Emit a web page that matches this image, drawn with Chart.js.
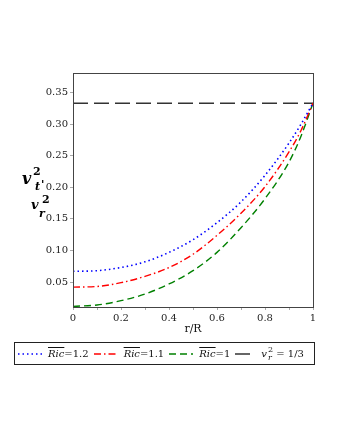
<!DOCTYPE html>
<html>
<head>
<meta charset="utf-8">
<script src="https://cdn.jsdelivr.net/npm/chart.js@4.4.1/dist/chart.umd.min.js"></script>
<style>
    body { margin: 0; background: #fff; width: 340px; height: 440px; overflow: hidden; }
    #wrap { position: absolute; left: 0; top: 0; width: 340px; height: 440px; }
    .ylab { position: absolute; font-family: "DejaVu Serif", serif; font-style: italic; color: #000; line-height: 1; }
    #legend {
        position: absolute; left: 14px; top: 342px; width: 299px; height: 21px;
        border: 1px solid #222; display: flex; align-items: center;
        font-family: "DejaVu Serif", serif; font-size: 10px; color: #111;
    }
    #legend .item { display: flex; align-items: center; margin-left: 3px; margin-right: 2px; }
    #legend svg { margin-right: 6px; }
    .ov { text-decoration: overline; font-style: italic; }
</style>
</head>
<body>
<div id="wrap"><canvas id="vChart"></canvas></div>

<!-- y axis label: v_t^2, v_r^2 -->
<span class="ylab" style="left:22px;top:171px;font-size:16px;font-weight:bold;">v</span>
<span class="ylab" style="left:33px;top:166px;font-size:11px;font-weight:bold;font-style:normal;">2</span>
<span class="ylab" style="left:35px;top:181px;font-size:11px;font-weight:bold;">t</span>
<span class="ylab" style="left:41px;top:179px;font-size:11px;font-weight:bold;">'</span>
<span class="ylab" style="left:31px;top:198px;font-size:13px;font-weight:bold;">v</span>
<span class="ylab" style="left:42px;top:194px;font-size:11px;font-weight:bold;font-style:normal;">2</span>
<span class="ylab" style="left:39px;top:208px;font-size:11px;font-weight:bold;">r</span>

<div id="legend"></div>

<script>
// r/R sample points
const rValues = [0, 0.1, 0.2, 0.3, 0.4, 0.5, 0.6, 0.7, 0.8, 0.9, 0.95, 1];

// squared velocities
const vRic12 = [0.067, 0.068, 0.073, 0.082, 0.097, 0.117, 0.144, 0.177, 0.219, 0.270, 0.300, 0.3333];
const vRic11 = [0.042, 0.043, 0.049, 0.059, 0.073, 0.094, 0.124, 0.159, 0.201, 0.256, 0.290, 0.3333];
const vRic1  = [0.0115, 0.0137, 0.0205, 0.031, 0.047, 0.068, 0.097, 0.136, 0.182, 0.240, 0.281, 0.3333];

// causality bound v_r^2 = 1/3
const boundR = [0, 1];
const boundV = [0.3333, 0.3333];

const yTicks = [0.05, 0.10, 0.15, 0.20, 0.25, 0.30, 0.35];
const xTicks = [0, 0.1, 0.2, 0.3, 0.4, 0.5, 0.6, 0.7, 0.8, 0.9, 1];
const xLabels = ['0', '', '0.2', '', '0.4', '', '0.6', '', '0.8', '', '1'];

const seriesLabels = ['1.2', '1.1', '1'];

function toPoints(xs, ys) {
    return xs.map((x, i) => ({ x: x, y: ys[i] }));
}

// frame around the plot area
const frame = {
    id: 'frame',
    afterDraw(chart) {
        const a = chart.chartArea;
        const ctx = chart.ctx;
        ctx.save();
        ctx.strokeStyle = '#444';
        ctx.lineWidth = 1;
        ctx.strokeRect(a.left + 0.5, a.top + 0.5, a.right - a.left, a.bottom - a.top);
        ctx.restore();
    }
};

const ctx = document.getElementById('vChart').getContext('2d');

const chart = new Chart(ctx, {
    type: 'line',
    data: {
        datasets: [
            {
                label: 'Ric=1.2',
                data: toPoints(rValues, vRic12),
                borderColor: '#0000ff',
                borderWidth: 1.6,
                borderDash: [1.5, 3],
                cubicInterpolationMode: 'monotone'
            },
            {
                label: 'Ric=1.1',
                data: toPoints(rValues, vRic11),
                borderColor: '#ff0000',
                borderWidth: 1.4,
                borderDash: [7, 3, 1.5, 3],
                cubicInterpolationMode: 'monotone'
            },
            {
                label: 'Ric=1',
                data: toPoints(rValues, vRic1),
                borderColor: '#008000',
                borderWidth: 1.4,
                borderDash: [7, 4],
                cubicInterpolationMode: 'monotone'
            },
            {
                label: 'vr2 = 1/3',
                data: toPoints(boundR, boundV),
                borderColor: '#333',
                borderWidth: 1.5,
                borderDash: [15, 6]
            }
        ]
    },
    options: {
        responsive: true,
        maintainAspectRatio: false,
        animation: false,
        elements: { point: { radius: 0 } },
        layout: { padding: { left: 0, top: 73, right: 27, bottom: 104 } },
        plugins: {
            legend: { display: false },
            tooltip: { enabled: false }
        },
        scales: {
            x: {
                type: 'linear',
                min: 0,
                max: 1,
                afterBuildTicks: (s) => { s.ticks = xTicks.map(v => ({ value: v })); },
                afterFit: (s) => { s.height = 29; },
                grid: { drawOnChartArea: false, tickLength: 3, color: '#aaa' },
                border: { display: false },
                ticks: {
                    autoSkip: false,
                    maxRotation: 0,
                    padding: 2,
                    color: '#222',
                    font: { family: 'DejaVu Serif', size: 10 },
                    callback: (v, i) => xLabels[i]
                },
                title: {
                    display: true,
                    text: 'r/R',
                    color: '#111',
                    padding: 0,
                    font: { family: 'DejaVu Serif', size: 11 }
                }
            },
            y: {
                min: 0.0105,
                max: 0.381,
                afterBuildTicks: (s) => { s.ticks = yTicks.map(v => ({ value: v })); },
                afterFit: (s) => { s.width = 73; },
                grid: { drawOnChartArea: false, tickLength: 3, color: '#aaa' },
                border: { display: false },
                ticks: {
                    padding: 2,
                    color: '#222',
                    font: { family: 'DejaVu Serif', size: 10 },
                    callback: (v) => v.toFixed(2)
                }
            }
        }
    },
    plugins: [frame]
});

// legend built from the datasets
const legend = document.getElementById('legend');
chart.data.datasets.forEach((ds, i) => {
    const item = document.createElement('span');
    item.className = 'item';
    const w = i === 3 ? 20 : 24;
    item.innerHTML =
        '<svg width="' + w + '" height="6"><line x1="0" y1="3" x2="' + w + '" y2="3" stroke="' + ds.borderColor +
        '" stroke-width="' + ds.borderWidth + '" stroke-dasharray="' + ds.borderDash.join(',') + '"/></svg>';
    const txt = document.createElement('span');
    if (i < 3) {
        txt.innerHTML = '<span class="ov">Ric</span>=' + seriesLabels[i];
    } else {
        txt.innerHTML = '<i>v</i><span style="display:inline-block;vertical-align:middle;line-height:1;font-size:8px;margin-left:1px;">' +
            '<span style="display:block">2</span><i style="display:block">r</i></span> = 1/3';
    }
    item.appendChild(txt);
    legend.appendChild(item);
});
</script>
</body>
</html>
